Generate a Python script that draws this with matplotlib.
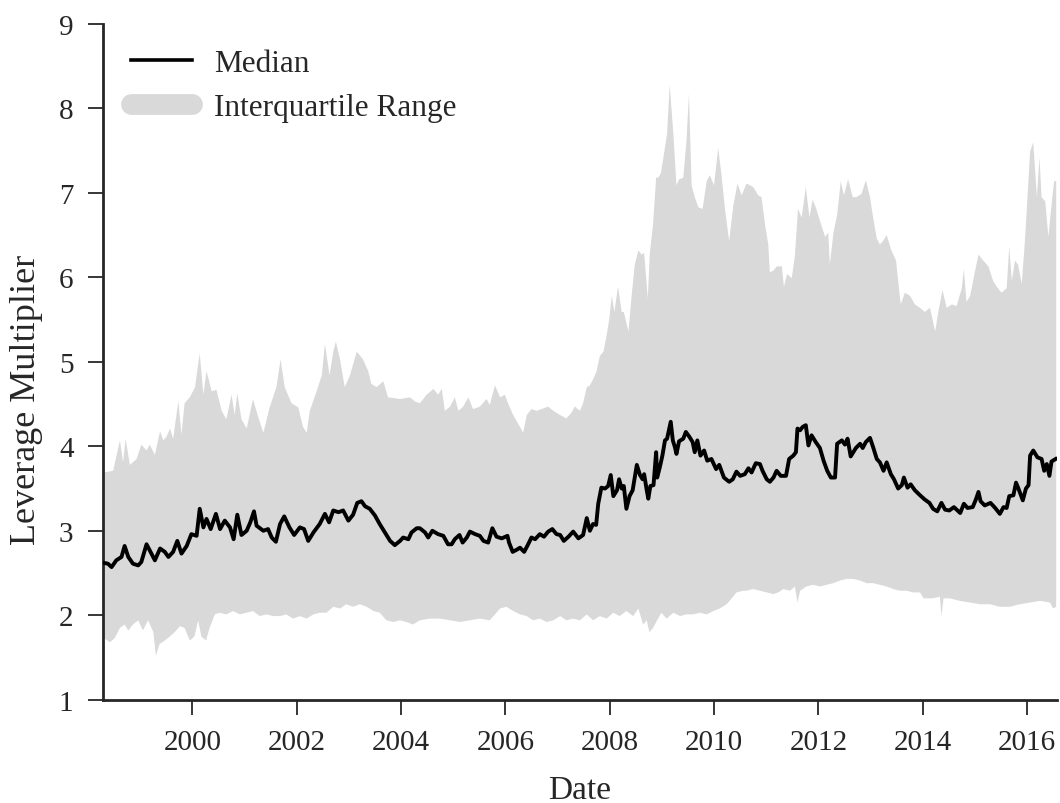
import numpy as np
import matplotlib
matplotlib.use('Agg')
import matplotlib.pyplot as plt
from matplotlib.lines import Line2D

# --- data (decimal years) ---
median_dates = [
    1998.30, 1998.38, 1998.45, 1998.54, 1998.64, 1998.70, 1998.77, 1998.86, 1998.96, 1999.02,
    1999.12, 1999.18, 1999.28, 1999.38, 1999.47, 1999.54, 1999.63, 1999.71, 1999.79, 1999.89,
    1999.98, 2000.08, 2000.14, 2000.21, 2000.27, 2000.35, 2000.45, 2000.53, 2000.62, 2000.72,
    2000.79, 2000.86, 2000.94, 2001.04, 2001.11, 2001.18, 2001.23, 2001.36, 2001.45, 2001.52,
    2001.60, 2001.68, 2001.76, 2001.86, 2001.95, 2002.06, 2002.14, 2002.22, 2002.32, 2002.44,
    2002.54, 2002.62, 2002.70, 2002.80, 2002.89, 2002.99, 2003.08, 2003.16, 2003.24, 2003.31,
    2003.40, 2003.50, 2003.59, 2003.69, 2003.79, 2003.88, 2003.98, 2004.04, 2004.14, 2004.20,
    2004.30, 2004.36, 2004.46, 2004.52, 2004.60, 2004.71, 2004.81, 2004.90, 2004.97, 2005.03,
    2005.12, 2005.18, 2005.26, 2005.32, 2005.42, 2005.51, 2005.58, 2005.67, 2005.75, 2005.83,
    2005.93, 2006.04, 2006.07, 2006.14, 2006.23, 2006.28, 2006.36, 2006.42, 2006.50, 2006.57,
    2006.66, 2006.74, 2006.82, 2006.90, 2006.98, 2007.05, 2007.12, 2007.21, 2007.30, 2007.40,
    2007.49, 2007.56, 2007.62, 2007.68, 2007.74, 2007.78, 2007.84, 2007.91, 2007.97, 2008.02,
    2008.07, 2008.14, 2008.18, 2008.23, 2008.27, 2008.32, 2008.38, 2008.44, 2008.52, 2008.58,
    2008.63, 2008.66, 2008.71, 2008.74, 2008.78, 2008.84, 2008.89, 2008.91, 2008.96, 2009.01,
    2009.06, 2009.10, 2009.17, 2009.21, 2009.25, 2009.28, 2009.33, 2009.41, 2009.46, 2009.53,
    2009.59, 2009.63, 2009.68, 2009.74, 2009.81, 2009.87, 2009.95, 2010.04, 2010.10, 2010.19,
    2010.29, 2010.36, 2010.43, 2010.50, 2010.59, 2010.66, 2010.72, 2010.80, 2010.88, 2010.93,
    2011.01, 2011.07, 2011.14, 2011.20, 2011.28, 2011.38, 2011.44, 2011.52, 2011.57, 2011.60,
    2011.65, 2011.70, 2011.76, 2011.81, 2011.87, 2011.95, 2012.03, 2012.10, 2012.17, 2012.24,
    2012.32, 2012.36, 2012.45, 2012.51, 2012.56, 2012.62, 2012.72, 2012.80, 2012.85, 2012.91,
    2012.99, 2013.05, 2013.12, 2013.18, 2013.25, 2013.31, 2013.39, 2013.45, 2013.53, 2013.60,
    2013.64, 2013.71, 2013.77, 2013.85, 2013.95, 2014.04, 2014.13, 2014.20, 2014.28, 2014.36,
    2014.43, 2014.51, 2014.60, 2014.72, 2014.79, 2014.86, 2014.96, 2015.02, 2015.07, 2015.11,
    2015.19, 2015.30, 2015.39, 2015.48, 2015.55, 2015.61, 2015.66, 2015.74, 2015.79, 2015.83,
    2015.92, 2015.98, 2016.03, 2016.06, 2016.12, 2016.20, 2016.28, 2016.33, 2016.38, 2016.43,
    2016.47, 2016.55,
]
median_vals = [
    2.62, 2.61, 2.57, 2.65, 2.69, 2.82, 2.69, 2.61, 2.59, 2.63,
    2.84, 2.77, 2.65, 2.79, 2.75, 2.69, 2.75, 2.88, 2.73, 2.82,
    2.96, 2.94, 3.26, 3.04, 3.14, 3.02, 3.20, 3.02, 3.12, 3.04,
    2.90, 3.19, 2.95, 3.00, 3.10, 3.23, 3.06, 3.00, 3.02, 2.92,
    2.87, 3.08, 3.17, 3.04, 2.95, 3.04, 3.02, 2.88, 2.98, 3.08,
    3.20, 3.10, 3.24, 3.22, 3.24, 3.12, 3.19, 3.33, 3.35, 3.29,
    3.26, 3.18, 3.08, 2.98, 2.88, 2.83, 2.88, 2.92, 2.90, 2.98,
    3.03, 3.03, 2.98, 2.92, 3.00, 2.96, 2.94, 2.84, 2.84, 2.90,
    2.95, 2.86, 2.92, 2.99, 2.96, 2.94, 2.88, 2.86, 3.03, 2.93,
    2.91, 2.94, 2.86, 2.75, 2.78, 2.80, 2.75, 2.82, 2.92, 2.90,
    2.96, 2.93, 2.99, 3.02, 2.96, 2.95, 2.88, 2.93, 2.99, 2.91,
    2.95, 3.15, 3.00, 3.08, 3.07, 3.32, 3.51, 3.50, 3.53, 3.66,
    3.41, 3.48, 3.61, 3.50, 3.53, 3.26, 3.41, 3.48, 3.78, 3.66,
    3.61, 3.67, 3.48, 3.38, 3.53, 3.54, 3.93, 3.63, 3.75, 3.89,
    4.07, 4.09, 4.29, 4.07, 3.99, 3.91, 4.06, 4.09, 4.17, 4.11,
    4.05, 3.93, 4.07, 3.89, 3.95, 3.83, 3.85, 3.73, 3.78, 3.63,
    3.58, 3.61, 3.70, 3.65, 3.67, 3.74, 3.69, 3.80, 3.79, 3.71,
    3.61, 3.58, 3.63, 3.71, 3.65, 3.65, 3.85, 3.89, 3.93, 4.21,
    4.19, 4.23, 4.25, 4.01, 4.13, 4.05, 3.98, 3.83, 3.71, 3.63,
    3.63, 4.03, 4.07, 4.02, 4.09, 3.88, 3.98, 4.03, 3.98, 4.05,
    4.10, 3.99, 3.85, 3.81, 3.71, 3.81, 3.67, 3.61, 3.50, 3.54,
    3.63, 3.51, 3.55, 3.48, 3.42, 3.37, 3.33, 3.26, 3.23, 3.33,
    3.25, 3.24, 3.28, 3.21, 3.32, 3.27, 3.28, 3.37, 3.46, 3.35,
    3.30, 3.33, 3.27, 3.20, 3.28, 3.27, 3.41, 3.42, 3.57, 3.51,
    3.36, 3.50, 3.54, 3.89, 3.95, 3.87, 3.85, 3.71, 3.79, 3.65,
    3.82, 3.85,
]

upper_dates = [
    1998.30, 1998.48, 1998.61, 1998.67, 1998.72, 1998.80, 1998.93, 1999.02, 1999.12, 1999.18,
    1999.28, 1999.38, 1999.44, 1999.50, 1999.57, 1999.63, 1999.73, 1999.79, 1999.85, 1999.95,
    2000.05, 2000.14, 2000.21, 2000.27, 2000.37, 2000.46, 2000.56, 2000.65, 2000.75, 2000.81,
    2000.86, 2000.94, 2001.04, 2001.16, 2001.26, 2001.36, 2001.48, 2001.61, 2001.69, 2001.77,
    2001.90, 2002.03, 2002.12, 2002.19, 2002.25, 2002.38, 2002.48, 2002.54, 2002.63, 2002.70,
    2002.75, 2002.83, 2002.92, 2003.02, 2003.15, 2003.27, 2003.37, 2003.43, 2003.53, 2003.66,
    2003.75, 2003.98, 2004.17, 2004.27, 2004.36, 2004.49, 2004.62, 2004.71, 2004.78, 2004.84,
    2004.94, 2005.03, 2005.10, 2005.19, 2005.29, 2005.38, 2005.51, 2005.64, 2005.70, 2005.80,
    2005.90, 2005.99, 2006.05, 2006.15, 2006.28, 2006.34, 2006.41, 2006.50, 2006.60, 2006.69,
    2006.82, 2006.92, 2007.05, 2007.17, 2007.27, 2007.33, 2007.43, 2007.49, 2007.56, 2007.62,
    2007.68, 2007.75, 2007.81, 2007.88, 2007.94, 2007.99, 2008.04, 2008.09, 2008.16, 2008.23,
    2008.27, 2008.36, 2008.42, 2008.48, 2008.55, 2008.61, 2008.66, 2008.73, 2008.77, 2008.83,
    2008.89, 2008.93, 2008.98, 2009.04, 2009.10, 2009.15, 2009.22, 2009.28, 2009.33, 2009.41,
    2009.47, 2009.52, 2009.57, 2009.63, 2009.70, 2009.78, 2009.86, 2009.92, 2010.00, 2010.08,
    2010.14, 2010.21, 2010.29, 2010.37, 2010.45, 2010.53, 2010.62, 2010.66, 2010.75, 2010.85,
    2010.91, 2010.98, 2011.04, 2011.07, 2011.14, 2011.20, 2011.30, 2011.34, 2011.40, 2011.49,
    2011.55, 2011.61, 2011.68, 2011.76, 2011.83, 2011.89, 2011.95, 2012.03, 2012.13, 2012.19,
    2012.22, 2012.29, 2012.36, 2012.43, 2012.49, 2012.57, 2012.66, 2012.73, 2012.83, 2012.91,
    2012.99, 2013.05, 2013.12, 2013.18, 2013.24, 2013.31, 2013.40, 2013.49, 2013.53, 2013.58,
    2013.66, 2013.76, 2013.85, 2013.95, 2014.04, 2014.14, 2014.24, 2014.30, 2014.38, 2014.46,
    2014.56, 2014.65, 2014.75, 2014.79, 2014.84, 2014.91, 2015.00, 2015.07, 2015.16, 2015.26,
    2015.35, 2015.42, 2015.51, 2015.61, 2015.66, 2015.71, 2015.77, 2015.83, 2015.90, 2015.96,
    2016.01, 2016.06, 2016.12, 2016.19, 2016.24, 2016.28, 2016.35, 2016.41, 2016.47, 2016.52,
    2016.56,
]
upper_vals = [
    3.69, 3.71, 4.07, 3.81, 4.09, 3.78, 3.85, 4.02, 3.95, 4.02,
    3.90, 4.18, 4.07, 4.11, 4.21, 4.09, 4.53, 4.14, 4.51, 4.58,
    4.70, 5.10, 4.61, 4.89, 4.65, 4.67, 4.42, 4.32, 4.61, 4.37,
    4.63, 4.32, 4.21, 4.56, 4.35, 4.16, 4.46, 4.70, 5.03, 4.70,
    4.51, 4.46, 4.23, 4.16, 4.42, 4.65, 4.84, 5.21, 4.84, 5.12,
    5.24, 5.03, 4.70, 4.84, 5.12, 5.03, 4.89, 4.74, 4.70, 4.77,
    4.58, 4.56, 4.58, 4.53, 4.51, 4.61, 4.68, 4.61, 4.68, 4.42,
    4.47, 4.58, 4.42, 4.47, 4.58, 4.44, 4.47, 4.56, 4.49, 4.72,
    4.58, 4.61, 4.51, 4.37, 4.23, 4.16, 4.37, 4.44, 4.42, 4.44,
    4.47, 4.42, 4.37, 4.33, 4.40, 4.47, 4.42, 4.51, 4.70, 4.72,
    4.79, 4.89, 5.07, 5.12, 5.31, 5.50, 5.78, 5.59, 5.89, 5.59,
    5.59, 5.36, 5.78, 6.15, 6.32, 6.27, 6.29, 5.75, 6.29, 6.62,
    7.18, 7.18, 7.23, 7.46, 7.70, 8.28, 7.70, 7.09, 7.16, 7.18,
    7.60, 8.17, 7.09, 6.95, 6.83, 6.81, 7.14, 7.21, 7.09, 7.53,
    7.23, 6.81, 6.43, 6.85, 7.11, 6.97, 7.11, 7.10, 7.07, 6.97,
    6.95, 6.62, 6.39, 6.06, 6.08, 6.13, 6.13, 5.89, 6.04, 5.99,
    6.25, 6.81, 6.71, 7.07, 6.71, 6.92, 6.83, 6.67, 6.48, 6.53,
    6.15, 6.53, 6.74, 7.14, 6.97, 7.16, 6.95, 6.95, 6.99, 7.15,
    6.95, 6.71, 6.46, 6.39, 6.43, 6.50, 6.32, 6.20, 5.96, 5.68,
    5.82, 5.78, 5.68, 5.64, 5.59, 5.64, 5.36, 5.59, 5.85, 5.64,
    5.68, 5.66, 5.87, 6.10, 5.71, 5.78, 6.06, 6.27, 6.20, 6.13,
    5.96, 5.89, 5.82, 5.87, 6.36, 5.96, 6.20, 6.15, 5.92, 6.43,
    6.95, 7.49, 7.60, 6.95, 7.42, 6.95, 6.90, 6.48, 6.85, 7.14,
    7.14,
]

lower_dates = [
    1998.30, 1998.42, 1998.51, 1998.61, 1998.70, 1998.77, 1998.86, 1998.96, 1999.05, 1999.15,
    1999.25, 1999.30, 1999.37, 1999.47, 1999.57, 1999.66, 1999.76, 1999.85, 1999.95, 2000.04,
    2000.11, 2000.17, 2000.26, 2000.33, 2000.43, 2000.52, 2000.65, 2000.78, 2000.91, 2001.04,
    2001.16, 2001.29, 2001.42, 2001.55, 2001.68, 2001.80, 2001.93, 2002.06, 2002.19, 2002.32,
    2002.44, 2002.57, 2002.70, 2002.83, 2002.95, 2003.08, 2003.21, 2003.34, 2003.47, 2003.59,
    2003.72, 2003.85, 2003.98, 2004.10, 2004.23, 2004.36, 2004.55, 2004.74, 2004.94, 2005.13,
    2005.32, 2005.51, 2005.70, 2005.90, 2006.02, 2006.15, 2006.28, 2006.41, 2006.53, 2006.66,
    2006.79, 2006.92, 2007.05, 2007.17, 2007.30, 2007.43, 2007.56, 2007.68, 2007.81, 2007.94,
    2008.07, 2008.19, 2008.32, 2008.45, 2008.55, 2008.64, 2008.71, 2008.76, 2008.83, 2008.91,
    2008.99, 2009.09, 2009.22, 2009.35, 2009.47, 2009.60, 2009.73, 2009.86, 2009.99, 2010.11,
    2010.24, 2010.34, 2010.43, 2010.56, 2010.62, 2010.75, 2010.88, 2011.01, 2011.14, 2011.23,
    2011.33, 2011.46, 2011.55, 2011.60, 2011.65, 2011.77, 2011.90, 2012.03, 2012.16, 2012.29,
    2012.41, 2012.54, 2012.67, 2012.80, 2012.93, 2013.05, 2013.18, 2013.31, 2013.44, 2013.56,
    2013.69, 2013.82, 2013.95, 2014.02, 2014.20, 2014.33, 2014.36, 2014.40, 2014.52, 2014.71,
    2014.91, 2015.10, 2015.29, 2015.48, 2015.67, 2015.86, 2016.06, 2016.25, 2016.44, 2016.50,
    2016.56,
]
lower_vals = [
    1.73, 1.68, 1.73, 1.85, 1.89, 1.82, 1.89, 1.94, 1.82, 1.94,
    1.80, 1.52, 1.66, 1.70, 1.75, 1.80, 1.87, 1.85, 1.70, 1.75,
    1.94, 1.75, 1.70, 1.85, 2.01, 2.03, 2.01, 2.05, 2.01, 2.03,
    2.05, 1.99, 2.01, 1.99, 1.99, 2.01, 1.96, 1.99, 1.96, 2.01,
    2.03, 2.03, 2.10, 2.08, 2.13, 2.10, 2.13, 2.10, 2.05, 2.03,
    1.94, 1.92, 1.94, 1.92, 1.89, 1.94, 1.96, 1.96, 1.94, 1.92,
    1.94, 1.96, 1.94, 2.08, 2.10, 2.05, 2.01, 1.99, 1.94, 1.96,
    1.92, 1.94, 1.99, 1.94, 1.96, 1.94, 2.01, 1.94, 1.99, 1.96,
    2.03, 1.99, 2.05, 1.99, 2.08, 1.89, 1.94, 1.80, 1.85, 1.94,
    2.03, 1.96, 2.03, 1.99, 2.01, 2.01, 2.03, 2.01, 2.05, 2.08,
    2.13, 2.20, 2.27, 2.29, 2.29, 2.31, 2.29, 2.27, 2.25, 2.27,
    2.31, 2.29, 2.34, 2.15, 2.29, 2.34, 2.36, 2.34, 2.36, 2.38,
    2.41, 2.43, 2.43, 2.41, 2.38, 2.38, 2.36, 2.34, 2.31, 2.29,
    2.29, 2.27, 2.27, 2.20, 2.20, 2.22, 1.99, 2.20, 2.20, 2.17,
    2.15, 2.13, 2.13, 2.10, 2.10, 2.13, 2.15, 2.17, 2.15, 2.08,
    2.10,
]

x_ticks = [2000, 2002, 2004, 2006, 2008, 2010, 2012, 2014, 2016]
y_ticks = [1, 2, 3, 4, 5, 6, 7, 8, 9]

FILL = '#d9d9d9'
INK = '#262626'

plt.rcParams['font.family'] = ['Liberation Serif', 'DejaVu Serif']

fig = plt.figure(figsize=(10.6, 8.04), dpi=100)
ax = fig.add_axes([0.0969, 0.1285, 0.9, 0.8404])

# interquartile band as one polygon: upper edge forward, lower edge back
band_x = np.concatenate([upper_dates, lower_dates[::-1]])
band_y = np.concatenate([upper_vals, lower_vals[::-1]])
ax.fill(band_x, band_y, color=FILL, lw=0, zorder=1)
ax.plot(median_dates, median_vals, color='black', lw=2.8, zorder=3)

ax.set_xlim(1998.28, 2016.57)
ax.set_ylim(1, 9)
ax.set_xticks(x_ticks)
ax.set_xticklabels([str(t) for t in x_ticks])
ax.set_yticks(y_ticks)

for side in ['top', 'right']:
    ax.spines[side].set_visible(False)
for side in ['left', 'bottom']:
    ax.spines[side].set_linewidth(2.0)
    ax.spines[side].set_color(INK)
ax.tick_params(direction='out', length=11, width=1.3, color=INK,
               labelsize=21, labelcolor=INK, pad=10)

ax.set_xlabel('Date', fontsize=24, color=INK, labelpad=14)
ax.set_ylabel('Leverage Multiplier', fontsize=26, color=INK)
ax.yaxis.set_label_coords(-0.063, 0.445)

handles = [
    Line2D([], [], color='black', lw=2.6),
    Line2D([], [], color=FILL, lw=15, solid_capstyle='round'),
]
ax.legend(handles, ['Median', 'Interquartile Range'], loc='upper left',
          bbox_to_anchor=(0.0, 1.005), frameon=False, fontsize=22.5,
          handlelength=1.95, handletextpad=0.7, labelspacing=0.5,
          labelcolor=INK)

fig.savefig('out.png', dpi=100)
